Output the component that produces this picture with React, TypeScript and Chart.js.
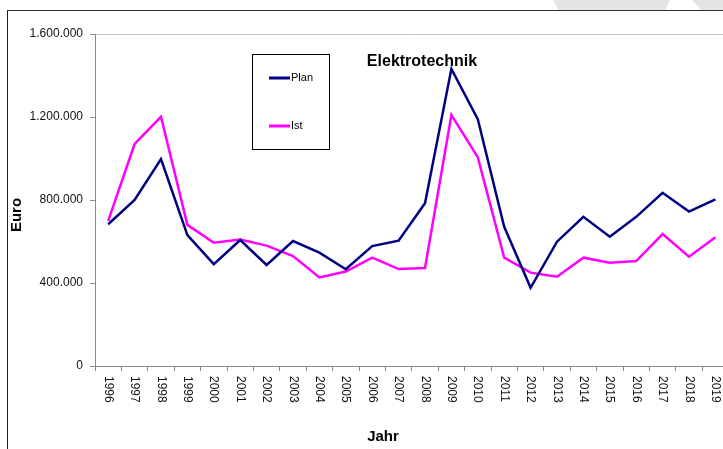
import React, { useEffect, useRef } from "react";
import { Chart, registerables } from "chart.js";

Chart.register(...registerables);

const years = [
  "1996", "1997", "1998", "1999", "2000", "2001", "2002", "2003", "2004", "2005", "2006", "2007",
  "2008", "2009", "2010", "2011", "2012", "2013", "2014", "2015", "2016", "2017", "2018", "2019",
];

const planValues = [
  683000, 800000, 997000, 631000, 491000, 607000, 487000, 602000, 546000, 466000, 578000, 604000,
  784000, 1432000, 1189000, 671000, 377000, 599000, 719000, 623000, 719000, 835000, 744000, 803000,
];

const istValues = [
  699000, 1070000, 1201000, 680000, 594000, 610000, 580000, 530000, 427000, 455000, 522000, 467000,
  472000, 1210000, 1006000, 522000, 450000, 430000, 522000, 498000, 506000, 636000, 527000, 620000,
];

const yTickLabels = ["0", "400.000", "800.000", "1.200.000", "1.600.000"];

const chartTitle = "Elektrotechnik";
const xTitle = "Jahr";
const yTitle = "Euro";

const FONT = "'Liberation Sans', Arial, sans-serif";
const PLAN_COLOR = "#000080";
const IST_COLOR = "#FF00FF";
const AXIS_COLOR = "#8a8a8a";

const CW = 740;
const CH = 450;

const overlayPlugin = {
  id: "overlay",
  afterDraw(chart: any) {
    const ctx = chart.ctx as CanvasRenderingContext2D;
    const xs = chart.scales.x;
    const area = chart.chartArea;
    ctx.save();

    // x tick labels, rotated clockwise
    ctx.fillStyle = "#111";
    ctx.font = `12px ${FONT}`;
    ctx.textAlign = "left";
    ctx.textBaseline = "middle";
    years.forEach((label, i) => {
      const x = xs.getPixelForValue(i);
      ctx.save();
      ctx.translate(x, area.bottom + 10);
      ctx.rotate(Math.PI / 2);
      ctx.fillText(label, 0, 0);
      ctx.restore();
    });

    // chart title inside plot
    ctx.fillStyle = "#000";
    ctx.font = `bold 16px ${FONT}`;
    ctx.textAlign = "center";
    ctx.textBaseline = "middle";
    ctx.fillText(chartTitle, area.left + 327, area.top + 28);

    // axis titles
    ctx.font = `bold 15px ${FONT}`;
    ctx.fillText(xTitle, area.left + 288, area.bottom + 71);
    ctx.save();
    ctx.translate(9, area.top + 181);
    ctx.rotate(-Math.PI / 2);
    ctx.fillText(yTitle, 0, 0);
    ctx.restore();

    // legend box
    const bx = area.left + 157;
    const by = area.top + 20;
    const bw = 77;
    const bh = 95;
    ctx.strokeStyle = "#000";
    ctx.lineWidth = 1;
    ctx.strokeRect(Math.round(bx) + 0.5, Math.round(by) + 0.5, bw, bh);
    const items = chart.data.datasets;
    const rowsY = [by + 24, by + 72];
    ctx.font = `11px ${FONT}`;
    ctx.textAlign = "left";
    items.forEach((ds: any, i: number) => {
      const y = rowsY[i];
      ctx.strokeStyle = ds.borderColor;
      ctx.lineWidth = 3;
      ctx.beginPath();
      ctx.moveTo(bx + 17, y);
      ctx.lineTo(bx + 38, y);
      ctx.stroke();
      ctx.fillStyle = "#000";
      ctx.fillText(ds.label, bx + 39, y);
    });

    ctx.restore();
  },
};

export default function App() {
  const canvasRef = useRef<HTMLCanvasElement | null>(null);

  useEffect(() => {
    const canvas = canvasRef.current;
    if (!canvas) return;
    const chart = new Chart(canvas, {
      type: "line",
      data: {
        labels: years,
        datasets: [
          {
            label: "Plan",
            data: planValues,
            borderColor: PLAN_COLOR,
            backgroundColor: PLAN_COLOR,
            borderWidth: 2.5,
            pointRadius: 0,
            tension: 0,
            fill: false,
          },
          {
            label: "Ist",
            data: istValues,
            borderColor: IST_COLOR,
            backgroundColor: IST_COLOR,
            borderWidth: 2.5,
            pointRadius: 0,
            tension: 0,
            fill: false,
          },
        ],
      },
      options: {
        responsive: false,
        animation: false,
        devicePixelRatio: 1,
        layout: { padding: { left: 0, top: 23, right: 19.4, bottom: 0 } },
        plugins: {
          legend: { display: false },
          tooltip: { enabled: false },
          title: { display: false },
        },
        scales: {
          x: {
            type: "category",
            offset: true,
            grid: {
              offset: true,
              drawOnChartArea: false,
              drawTicks: true,
              tickLength: 5,
              tickColor: AXIS_COLOR,
            },
            border: { display: true, color: AXIS_COLOR, width: 1 },
            ticks: { display: false },
            afterFit: (s: any) => {
              s.height = 95;
            },
          },
          y: {
            min: 0,
            max: 1600000,
            ticks: {
              stepSize: 400000,
              padding: 7,
              color: "#111",
              font: { family: FONT, size: 12 },
              callback: (_v: any, i: number) => yTickLabels[i],
            },
            grid: {
              drawOnChartArea: true,
              color: (c: any) =>
                c.tick && c.tick.value === 1600000 ? "#c4c4c4" : "rgba(0,0,0,0)",
              tickColor: AXIS_COLOR,
              tickLength: 5,
            },
            border: { display: true, color: AXIS_COLOR, width: 1 },
            afterFit: (s: any) => {
              s.width = 87;
            },
          },
        },
      },
      plugins: [overlayPlugin],
    });
    return () => chart.destroy();
  }, []);

  return (
    <div
      style={{
        position: "fixed",
        left: 0,
        top: 0,
        width: 723,
        height: 449,
        overflow: "hidden",
        background: "#fff",
      }}
    >
      <div
        style={{
          position: "absolute",
          left: 553,
          top: 0,
          width: 117,
          height: 11,
          background: "#e4e4e4",
          clipPath: "polygon(0 0, 100% 0, 95.7% 100%, 5.1% 100%)",
        }}
      />
      <div
        style={{
          position: "absolute",
          left: 692,
          top: 0,
          width: 31,
          height: 11,
          background: "#e4e4e4",
          clipPath: "polygon(0 0, 100% 0, 100% 100%, 32% 100%)",
        }}
      />
      <div
        style={{
          position: "absolute",
          left: 7,
          top: 10,
          width: 780,
          height: 480,
          borderLeft: "1px solid #222",
          borderTop: "1px solid #333",
          background: "#fff",
        }}
      >
        <canvas
          ref={canvasRef}
          width={CW}
          height={CH}
          style={{ position: "absolute", left: 0, top: 0, width: CW, height: CH }}
        />
      </div>
    </div>
  );
}
